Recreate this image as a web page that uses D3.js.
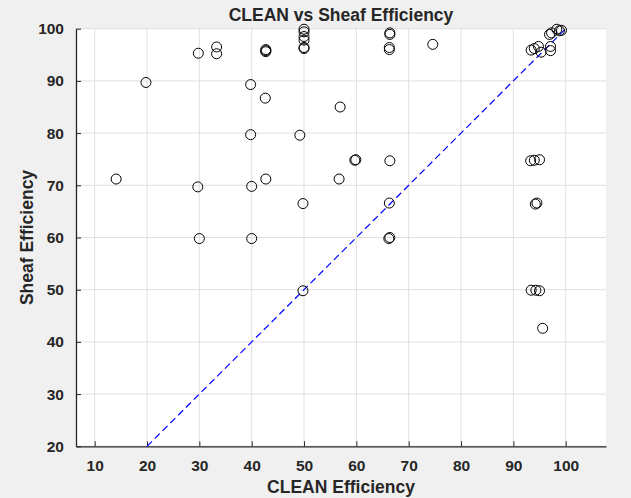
<!DOCTYPE html>
<html lang="en">
<head>
<meta charset="UTF-8">
<title>CLEAN vs Sheaf Efficiency</title>
<script src="https://d3js.org/d3.v7.min.js"></script>
<style>
  body { margin: 0; background: #f0f0f0; }
  svg text { font-family: "Liberation Sans", Arial, sans-serif; font-weight: bold; fill: #262626; }
</style>
</head>
<body>
<div class="chart"></div>
<script>
const w = 631, h = 498;
const margin = { top: 28.7, right: 25, bottom: 51.7, left: 76 };

// data
const cleanEff = [
  14.1, 19.8, 29.8, 33.3, 33.3, 39.8, 42.7, 42.7, 42.7, 42.6, 39.8, 49.2,
  29.7, 40.0, 42.7, 49.8, 30.0, 40.0,
  50.0, 50.0, 50.0, 50.0, 50.0, 50.0,
  66.4, 66.4, 66.3, 66.3, 74.6, 56.9, 59.7, 59.9, 66.4, 56.7, 66.3, 66.2, 66.4,
  49.8, 93.4, 94.3, 95.0, 95.6,
  93.3, 94.0, 95.0, 94.2, 94.5,
  93.4, 94.0, 94.8, 95.3, 97.1, 97.1, 96.9, 97.3, 98.3, 98.8, 99.2
];
const sheafEff = [
  71.2, 89.7, 95.3, 96.5, 95.2, 89.3, 95.6, 95.8, 96.0, 86.7, 79.7, 79.6,
  69.7, 69.8, 71.2, 66.5, 59.8, 59.8,
  99.9, 99.4, 98.5, 97.8, 96.4, 96.2,
  98.9, 99.2, 96.0, 96.4, 97.0, 85.0, 74.8, 74.9, 74.7, 71.2, 66.6, 59.8, 60.0,
  49.8, 49.9, 49.9, 49.8, 42.6,
  74.7, 74.8, 74.9, 66.4, 66.6,
  95.9, 96.2, 96.6, 95.5, 96.6, 95.8, 98.9, 99.2, 99.9, 99.6, 99.7
];
const xTicks = [10, 20, 30, 40, 50, 60, 70, 80, 90, 100];
const yTicks = [20, 30, 40, 50, 60, 70, 80, 90, 100];
const refLine = [20, 100];

const x = d3.scaleLinear().domain([6.43, 107.7]).range([margin.left, w - margin.right]);
const y = d3.scaleLinear().domain([20, 100]).range([h - margin.bottom, margin.top]);

const svg = d3.select(".chart").append("svg")
  .attr("width", w).attr("height", h)
  .style("display", "block");

svg.append("rect")
  .attr("x", margin.left).attr("y", margin.top)
  .attr("width", w - margin.left - margin.right)
  .attr("height", h - margin.top - margin.bottom)
  .attr("fill", "#ffffff");

// grid
svg.append("g").selectAll("line").data(xTicks).join("line")
  .attr("x1", d => x(d)).attr("x2", d => x(d))
  .attr("y1", margin.top).attr("y2", h - margin.bottom)
  .attr("stroke", "#dfdfdf").attr("stroke-width", 1);
svg.append("g").selectAll("line").data(yTicks).join("line")
  .attr("x1", margin.left).attr("x2", w - margin.right)
  .attr("y1", d => y(d)).attr("y2", d => y(d))
  .attr("stroke", "#dfdfdf").attr("stroke-width", 1);

// axes, ticks pointing inwards
const xAxis = svg.append("g")
  .attr("transform", `translate(0,${h - margin.bottom})`)
  .call(d3.axisBottom(x).tickValues(xTicks).tickSizeInner(-5).tickSizeOuter(0).tickPadding(14));
const yAxis = svg.append("g")
  .attr("transform", `translate(${margin.left},0)`)
  .call(d3.axisLeft(y).tickValues(yTicks).tickSizeInner(-5).tickSizeOuter(0).tickPadding(12));
[xAxis, yAxis].forEach(a => {
  a.select(".domain").attr("stroke", "#262626").attr("stroke-width", 1.3);
  a.selectAll(".tick line").attr("stroke", "#262626");
  a.selectAll("text").attr("fill", "#262626").style("font-size", "15.5px")
    .style("font-family", "'Liberation Sans', Arial, sans-serif").style("font-weight", "bold");
});

// reference line y = x
svg.append("line")
  .attr("x1", x(refLine[0])).attr("y1", y(refLine[0]))
  .attr("x2", x(refLine[1])).attr("y2", y(refLine[1]))
  .attr("stroke", "#0000ff").attr("stroke-width", 1.2)
  .attr("stroke-dasharray", "7,4");

// points
svg.append("g").selectAll("circle")
  .data(cleanEff.map((c, i) => [c, sheafEff[i]]))
  .join("circle")
  .attr("cx", d => x(d[0])).attr("cy", d => y(d[1]))
  .attr("r", 5)
  .attr("fill", "none").attr("stroke", "#000000").attr("stroke-width", 1);

// title and labels
svg.append("text").attr("x", (margin.left + w - margin.right) / 2).attr("y", 21)
  .attr("text-anchor", "middle").style("font-size", "17.5px")
  .attr("fill", "#000").text("CLEAN vs Sheaf Efficiency");
svg.append("text").attr("x", (margin.left + w - margin.right) / 2).attr("y", 493)
  .attr("text-anchor", "middle").style("font-size", "17.5px")
  .text("CLEAN Efficiency");
svg.append("text")
  .attr("transform", `translate(33,${(margin.top + h - margin.bottom) / 2}) rotate(-90)`)
  .attr("text-anchor", "middle").style("font-size", "17.5px")
  .text("Sheaf Efficiency");
</script>
</body>
</html>
